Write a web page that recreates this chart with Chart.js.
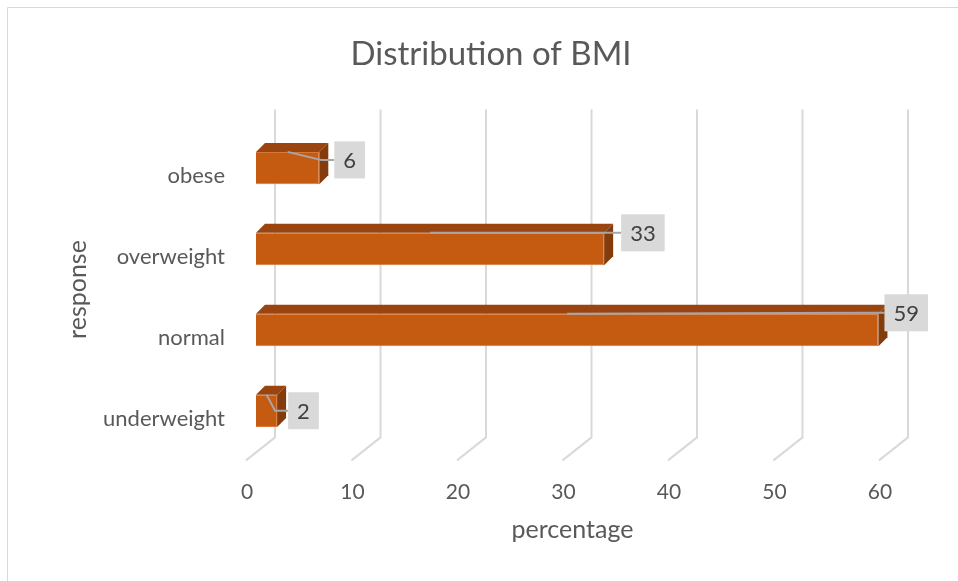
<!DOCTYPE html>
<html>
<head>
<meta charset="utf-8">
<title>Distribution of BMI</title>
<script src="https://cdn.jsdelivr.net/npm/chart.js@4.4.1/dist/chart.umd.min.js"></script>
<style>
  html, body { margin: 0; padding: 0; background: #fff; }
  canvas { display: block; }
</style>
</head>
<body>
<canvas id="bmi-chart" width="958" height="581"></canvas>
<script>
const categories = ['obese', 'overweight', 'normal', 'underweight'];
const percentages = [6, 33, 59, 2];
const xTicks = [0, 10, 20, 30, 40, 50, 60];

const FONT = 'Lato, "Open Sans", sans-serif';
const TEXT_GREY = '#595959';

// fake 3d: extra faces, back grid, excel style callout labels
const bar3d = {
  id: 'bar3d',
  beforeDraw(chart) {
    const { ctx, width } = chart;
    ctx.save();
    ctx.strokeStyle = '#d9d9d9';
    ctx.lineWidth = 1;
    ctx.beginPath();
    ctx.moveTo(7.5, chart.height);
    ctx.lineTo(7.5, 7.5);
    ctx.lineTo(width, 7.5);
    ctx.stroke();
    ctx.restore();
  },
  beforeDatasetsDraw(chart, args, opts) {
    const { ctx, chartArea, scales: { x } } = chart;
    ctx.save();
    ctx.strokeStyle = '#d9d9d9';
    ctx.lineWidth = 2;
    xTicks.forEach(v => {
      const bx = x.getPixelForValue(v) + opts.backShift;
      ctx.beginPath();
      ctx.moveTo(bx, chartArea.top - 18);
      ctx.lineTo(bx, chartArea.bottom - 14);
      ctx.lineTo(bx - 29, chartArea.bottom + 9);
      ctx.stroke();
    });
    ctx.restore();
  },
  afterDatasetsDraw(chart, args, opts) {
    const { ctx, scales: { x } } = chart;
    const meta = chart.getDatasetMeta(0);
    const d = opts.depth;
    ctx.save();
    meta.data.forEach(bar => {
      const top = bar.y - bar.height / 2;
      const bottom = bar.y + bar.height / 2;
      ctx.fillStyle = '#9a4510';
      ctx.beginPath();
      ctx.moveTo(bar.base, top);
      ctx.lineTo(bar.base + d, top - d);
      ctx.lineTo(bar.x + d, top - d);
      ctx.lineTo(bar.x, top);
      ctx.closePath();
      ctx.fill();
      ctx.fillStyle = '#843c0c';
      ctx.beginPath();
      ctx.moveTo(bar.x, top);
      ctx.lineTo(bar.x + d, top - d);
      ctx.lineTo(bar.x + d, bottom - d);
      ctx.lineTo(bar.x, bottom);
      ctx.closePath();
      ctx.fill();
    });

    ctx.font = '22px ' + FONT;
    ctx.textAlign = 'center';
    ctx.textBaseline = 'middle';
    meta.data.forEach((bar, i) => {
      const v = percentages[i];
      const nudge = opts.labelNudge[i];
      const top = bar.y - bar.height / 2;
      const text = String(v);
      const w = ctx.measureText(text).width + 18;
      const h = 37;
      const left = bar.x + nudge[0];
      const cy = top + nudge[1];
      // leader line
      ctx.strokeStyle = '#a6a6a6';
      ctx.lineWidth = 2;
      ctx.beginPath();
      ctx.moveTo(x.getPixelForValue(v / 2), top);
      ctx.lineTo(left - 13, cy);
      ctx.lineTo(left, cy);
      ctx.stroke();
      ctx.fillStyle = '#d9d9d9';
      ctx.fillRect(left, cy - h / 2, w, h);
      ctx.fillStyle = '#404040';
      ctx.fillText(text, left + w / 2, cy + 1);
    });
    ctx.restore();
  }
};

new Chart(document.getElementById('bmi-chart'), {
  type: 'bar',
  data: {
    labels: categories,
    datasets: [{
      data: percentages,
      backgroundColor: '#c55a11',
      borderColor: '#d9773a',
      borderWidth: 1,
      categoryPercentage: 1,
      barPercentage: 0.4
    }]
  },
  options: {
    indexAxis: 'y',
    responsive: false,
    animation: false,
    layout: { padding: { left: 24, right: 0, top: 0, bottom: 0 } },
    plugins: {
      legend: { display: false },
      tooltip: { enabled: false },
      title: {
        display: true,
        text: 'Distribution of BMI',
        color: TEXT_GREY,
        font: { family: FONT, size: 33, weight: 'normal' },
        padding: { top: 35, bottom: 53 }
      },
      bar3d: {
        depth: 9,
        backShift: 19,
        labelNudge: [[15, 8], [17, 0], [6, -1], [11, 16]]
      }
    },
    scales: {
      x: {
        min: xTicks[0],
        max: xTicks[xTicks.length - 1],
        grid: { display: false, drawTicks: false },
        border: { display: false },
        ticks: {
          stepSize: xTicks[1] - xTicks[0],
          color: TEXT_GREY,
          font: { family: FONT, size: 21 },
          padding: 28,
          labelOffset: -9
        },
        title: {
          display: true,
          text: 'percentage',
          color: TEXT_GREY,
          font: { family: FONT, size: 25 },
          padding: { top: 0, bottom: 36 }
        },
        afterFit(scale) { scale.height = 129.6; }
      },
      y: {
        grid: { display: false, drawTicks: false },
        border: { display: false },
        ticks: {
          color: TEXT_GREY,
          font: { family: FONT, size: 22 },
          padding: 31,
          labelOffset: 8
        },
        title: {
          display: true,
          text: 'response',
          color: TEXT_GREY,
          font: { family: FONT, size: 25 },
          padding: { top: 39, bottom: 0 }
        },
        afterFit(scale) { scale.width = 232; }
      },
      // empty strip on the right, keeps the plot off the edge
      side: {
        type: 'linear',
        position: 'right',
        grid: { display: false, drawTicks: false },
        border: { display: false },
        ticks: { display: false },
        afterFit(scale) { scale.width = 69; }
      }
    }
  },
  plugins: [bar3d]
});
</script>
</body>
</html>
